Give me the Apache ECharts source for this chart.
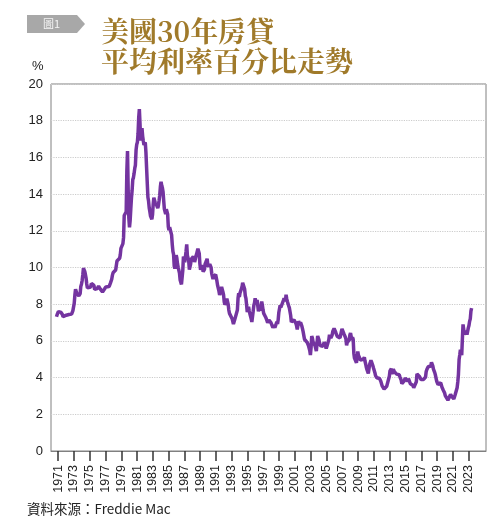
<!DOCTYPE html>
<html>
<head>
<meta charset="utf-8">
<script src="https://cdn.jsdelivr.net/npm/echarts@6/dist/echarts.min.js"></script>
<style>
html,body{margin:0;padding:0;background:#fff;}
#chart{width:493px;height:528px;}
</style>
</head>
<body>
<div id="chart"></div>
<script>
// Monthly 30-year fixed mortgage rates (%), Freddie Mac PMMS
var startYear = 1971, startMonth = 4; // April 1971
var rates1970s = [
  7.31,7.43,7.53,7.60,7.70,7.69,7.63,7.55,7.48,
  7.44,7.32,7.29,7.29,7.37,7.37,7.40,7.40,7.42,7.43,7.44,7.44,
  7.44,7.44,7.46,7.54,7.65,7.73,8.05,8.50,8.82,8.77,8.58,8.54,
  8.54,8.46,8.41,8.58,8.97,9.09,9.28,9.59,9.96,10.02,9.79,9.62,
  9.43,9.10,8.89,8.82,8.91,8.89,8.89,8.94,9.13,9.22,9.14,9.10,
  9.02,8.81,8.76,8.73,8.76,8.85,8.93,8.98,8.98,8.93,8.81,8.79,
  8.72,8.67,8.69,8.75,8.83,8.86,8.94,8.94,8.90,8.92,8.92,8.96,
  9.02,9.15,9.20,9.36,9.57,9.71,9.74,9.78,9.76,9.86,10.11,10.35,
  10.39,10.41,10.43,10.50,10.69,11.04,11.09,11.09,11.30,11.64,12.83,12.90
];
var rates1980s = [
  12.88,13.04,15.28,16.35,14.26,12.71,12.19,12.56,13.20,13.79,14.21,14.79,
  14.90,15.13,15.40,15.58,16.40,16.70,16.83,17.29,18.16,18.63,17.83,16.92,
  17.40,17.60,17.16,16.89,16.68,16.70,16.82,16.27,15.43,14.61,13.83,13.62,
  13.25,13.04,12.80,12.78,12.63,12.87,13.42,13.81,13.73,13.54,13.44,13.42,
  13.37,13.23,13.39,13.65,13.94,14.42,14.67,14.47,14.35,14.13,13.64,13.18,
  13.08,12.92,13.17,13.20,12.91,12.22,12.03,12.19,12.19,12.14,11.78,11.26,
  10.88,10.71,10.08,9.94,10.14,10.68,10.51,10.20,10.01,9.98,9.70,9.32,
  9.20,9.08,9.04,9.83,10.60,10.54,10.28,10.33,10.89,11.26,10.65,10.64,
  10.38,9.89,9.93,10.20,10.46,10.46,10.43,10.60,10.48,10.30,10.27,10.61,
  10.73,10.65,11.03,11.05,10.77,10.20,9.88,9.99,10.13,9.95,9.77,9.74
];
var rates1990s = [
  9.90,10.20,10.27,10.37,10.48,10.16,10.04,10.10,10.18,10.18,10.01,9.67,
  9.64,9.37,9.50,9.49,9.47,9.62,9.58,9.24,9.01,8.86,8.71,8.50,
  8.43,8.76,8.94,8.85,8.67,8.51,8.13,7.98,7.92,8.09,8.31,8.22,
  7.99,7.68,7.50,7.47,7.47,7.42,7.21,7.11,6.92,6.83,7.16,7.17,
  7.06,7.15,7.68,8.32,8.60,8.40,8.61,8.51,8.64,8.93,9.17,9.20,
  9.15,8.83,8.46,8.32,7.96,7.57,7.61,7.86,7.64,7.48,7.38,7.20,
  7.03,7.08,7.62,7.93,8.07,8.32,8.25,8.00,8.23,7.92,7.62,7.60,
  7.82,7.65,7.90,8.14,7.94,7.69,7.50,7.48,7.43,7.29,7.21,7.10,
  6.99,7.04,7.13,7.14,7.14,7.00,6.95,6.92,6.72,6.71,6.87,6.72,
  6.79,6.81,7.04,6.92,7.15,7.55,7.63,7.94,7.82,7.85,7.74,7.91
];
var rates2000s = [
  8.21,8.33,8.24,8.15,8.52,8.29,8.15,8.03,7.91,7.80,7.75,7.38,
  7.03,7.05,6.95,7.08,7.15,7.16,7.13,6.95,6.82,6.62,6.66,7.07,
  7.00,6.89,7.01,6.99,6.81,6.65,6.49,6.29,6.09,6.11,6.07,6.05,
  5.92,5.84,5.75,5.81,5.48,5.23,5.63,6.26,6.15,5.95,5.93,5.88,
  5.74,5.64,5.45,5.83,6.27,6.29,6.06,5.87,5.75,5.72,5.73,5.75,
  5.71,5.63,5.93,5.86,5.72,5.58,5.70,5.82,5.77,6.07,6.33,6.27,
  6.15,6.25,6.32,6.51,6.60,6.68,6.76,6.52,6.40,6.36,6.24,6.14,
  6.22,6.29,6.16,6.18,6.26,6.66,6.70,6.57,6.38,6.38,6.21,6.10,
  5.76,5.92,5.97,5.92,6.04,6.32,6.43,6.48,6.04,6.20,6.09,5.33,
  5.06,5.13,5.00,4.81,4.86,5.42,5.22,5.19,5.06,4.95,4.88,4.93
];
var rates2010s = [
  5.03,4.99,4.97,5.10,4.89,4.74,4.56,4.43,4.35,4.23,4.30,4.71,
  4.76,4.95,4.84,4.84,4.64,4.51,4.55,4.27,4.11,4.07,3.99,3.96,
  3.92,3.89,3.95,3.91,3.80,3.68,3.55,3.60,3.50,3.38,3.35,3.35,
  3.41,3.53,3.57,3.45,3.54,4.07,4.37,4.46,4.49,4.19,4.26,4.46,
  4.43,4.30,4.34,4.34,4.19,4.16,4.13,4.12,4.16,4.04,4.00,3.86,
  3.67,3.71,3.77,3.67,3.84,3.98,4.05,3.91,3.89,3.80,3.94,3.96,
  3.87,3.66,3.69,3.61,3.60,3.57,3.44,3.44,3.46,3.47,3.77,4.20,
  4.15,4.17,4.20,4.05,4.01,3.90,3.97,3.88,3.81,3.90,3.92,3.95,
  4.03,4.33,4.44,4.47,4.59,4.57,4.53,4.55,4.63,4.83,4.87,4.64,
  4.46,4.37,4.27,4.14,4.07,3.80,3.77,3.62,3.61,3.69,3.70,3.72
];
var rates2020s = [
  3.62,3.47,3.45,3.31,3.23,3.16,3.02,2.94,2.89,2.83,2.77,2.68,
  2.74,2.81,3.08,3.06,2.96,2.98,2.87,2.84,2.90,3.07,3.07,3.10,
  3.45,3.76,4.17,4.98,5.23,5.52,5.41,5.22,6.11,6.90,6.81,6.36,
  6.27,6.26,6.54,6.34,6.43,6.71,6.84,7.07,7.20,7.62,7.79
];
var tickYears = [1971,1973,1975,1977,1979,1981,1983,1985,1987,1989,1991,1993,1995,1997,1999,
                 2001,2003,2005,2007,2009,2011,2013,2015,2017,2019,2021,2023];
var yTicks = [0,2,4,6,8,10,12,14,16,18,20];

var allRates = [].concat(rates1970s, rates1980s, rates1990s, rates2000s, rates2010s, rates2020s);
var seriesData = allRates.map(function (v, i) {
  return [startYear + (startMonth - 1 + i + 0.5) / 12, v];
});

var chart = echarts.init(document.getElementById('chart'), null, {renderer: 'canvas'});
var font = '"Liberation Sans", Arial, "Noto Sans CJK TC", sans-serif';
chart.setOption({
  animation: false,
  backgroundColor: '#ffffff',
  title: {
    text: '美國30年房貸\n平均利率百分比走勢',
    left: 96, top: 11,
    textStyle: {
      fontFamily: '"Noto Serif CJK TC", "Noto Serif CJK SC", "Noto Sans CJK TC", serif',
      fontSize: 28, fontWeight: 'bold', lineHeight: 30, color: '#a07a2a'
    }
  },
  graphic: [
    {type: 'polygon', shape: {points: [[27,15],[77,15],[85,24],[77,33],[27,33]]},
     style: {fill: '#a8a8a8'}},
    {type: 'text', left: 43, top: 18,
     style: {text: '圖1', fill: '#f4f4f4', fontSize: 11, fontFamily: '"Noto Sans CJK TC", sans-serif'}},
    {type: 'text', left: 32, top: 60,
     style: {text: '%', fill: '#222', fontSize: 13, fontFamily: font}},
    {type: 'text', left: 27, top: 502,
     style: {text: '資料來源：Freddie Mac', fill: '#222', fontSize: 13.5,
             fontFamily: '"Noto Sans CJK TC", "Liberation Sans", sans-serif'}}
  ],
  grid: {left: 51, right: 7, top: 84, bottom: 77, show: true,
         borderColor: '#808080', borderWidth: 1, backgroundColor: 'transparent'},
  xAxis: {
    type: 'value', min: 1970.6, max: 2025.7,
    splitLine: {show: false},
    axisLine: {show: true, lineStyle: {color: '#808080', width: 1}},
    axisTick: {show: true, inside: false, length: 10,
               customValues: tickYears.map(function (y) { return y + 0.5; }),
               lineStyle: {color: '#333', width: 1.5}},
    axisLabel: {
      customValues: tickYears.map(function (y) { return y + 0.5; }),
      rotate: 90, margin: 14, fontSize: 12.5, color: '#222', fontFamily: font,
      formatter: function (v) { return String(Math.floor(v)); }
    }
  },
  yAxis: {
    type: 'value', min: yTicks[0], max: yTicks[yTicks.length - 1], interval: 2,
    axisLine: {show: false},
    axisTick: {show: false},
    axisLabel: {fontSize: 13, color: '#222', margin: 8, fontFamily: font},
    splitLine: {show: true, lineStyle: {color: '#cccccc', type: 'dotted', width: 1.2}}
  },
  series: [{
    type: 'line',
    data: seriesData,
    showSymbol: false,
    lineStyle: {color: '#7434a0', width: 3.5},
    itemStyle: {color: '#7434a0'}
  }]
});
</script>
</body>
</html>
